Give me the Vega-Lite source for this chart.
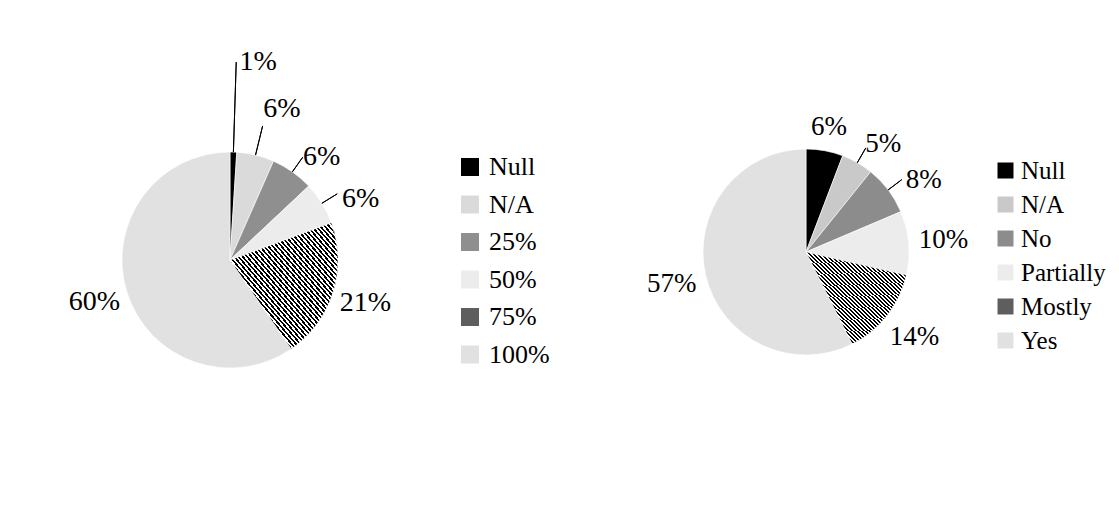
{
  "$schema": "https://vega.github.io/schema/vega-lite/v6.json",
  "background": "white",
  "padding": {"left": 7, "top": 12, "right": 0, "bottom": 0},
  "bounds": "flush",
  "spacing": 153,
  "config": {"view": {"stroke": null}, "font": "Times New Roman, Liberation Serif, DejaVu Serif, serif"},
  "resolve": {"scale": {"color": "independent", "theta": "independent"}, "legend": {"color": "independent"}},
  "hconcat": [
    {
      "width": 446,
      "height": 496,
      "data": {"values": [
        {"cat": "Null", "value": 1.0, "label": "1%"},
        {"cat": "N/A", "value": 5.6, "label": "6%"},
        {"cat": "25%", "value": 6.4, "label": "6%"},
        {"cat": "50%", "value": 6.4, "label": "6%"},
        {"cat": "75%", "value": 21.0, "label": "21%"},
        {"cat": "100%", "value": 59.6, "label": "60%"}
      ]},
      "transform": [{"window": [{"op": "row_number", "as": "idx"}]}],
      "encoding": {
        "theta": {"field": "value", "type": "quantitative", "stack": true},
        "order": {"field": "idx", "type": "quantitative"},
        "detail": {"field": "cat", "type": "nominal"}
      },
      "layer": [
        {
          "mark": {"type": "arc", "radius": 108, "stroke": "#ffffff", "strokeWidth": 0.6},
          "encoding": {
            "color": {
              "field": "cat", "type": "nominal",
              "scale": {
                "domain": ["Null", "N/A", "25%", "50%", "75%", "100%"],
                "range": ["#000000", "#dadada", "#8f8f8f", "#ececec", "#5e5e5e", "#e1e1e1"]
              },
              "legend": {
                "orient": "none", "legendX": 450, "legendY": 142, "title": null,
                "symbolType": "square", "symbolSize": 324, "symbolStrokeWidth": 0,
                "labelFont": "Times New Roman, Liberation Serif, DejaVu Serif, serif", "labelFontSize": 26, "labelColor": "#000000",
                "rowPadding": 11.5, "labelOffset": 6
              }
            }
          }
        },
        {
          "mark": {"type": "arc", "radius": 108, "stroke": "#ffffff", "strokeWidth": 0.6, "fill": {"gradient": "linear", "x1": 0, "y1": 1, "x2": 1, "y2": 0, "stops": [
{"offset":0,"color":"#000"},
{"offset":0.01,"color":"#000"},{"offset":0.01,"color":"#fff"},{"offset":0.02,"color":"#fff"},{"offset":0.02,"color":"#000"},
{"offset":0.03,"color":"#000"},{"offset":0.03,"color":"#fff"},{"offset":0.04,"color":"#fff"},{"offset":0.04,"color":"#000"},
{"offset":0.05,"color":"#000"},{"offset":0.05,"color":"#fff"},{"offset":0.06,"color":"#fff"},{"offset":0.06,"color":"#000"},
{"offset":0.07,"color":"#000"},{"offset":0.07,"color":"#fff"},{"offset":0.08,"color":"#fff"},{"offset":0.08,"color":"#000"},
{"offset":0.09,"color":"#000"},{"offset":0.09,"color":"#fff"},{"offset":0.10,"color":"#fff"},{"offset":0.10,"color":"#000"},
{"offset":0.11,"color":"#000"},{"offset":0.11,"color":"#fff"},{"offset":0.12,"color":"#fff"},{"offset":0.12,"color":"#000"},
{"offset":0.13,"color":"#000"},{"offset":0.13,"color":"#fff"},{"offset":0.14,"color":"#fff"},{"offset":0.14,"color":"#000"},
{"offset":0.15,"color":"#000"},{"offset":0.15,"color":"#fff"},{"offset":0.16,"color":"#fff"},{"offset":0.16,"color":"#000"},
{"offset":0.17,"color":"#000"},{"offset":0.17,"color":"#fff"},{"offset":0.18,"color":"#fff"},{"offset":0.18,"color":"#000"},
{"offset":0.19,"color":"#000"},{"offset":0.19,"color":"#fff"},{"offset":0.20,"color":"#fff"},{"offset":0.20,"color":"#000"},
{"offset":0.21,"color":"#000"},{"offset":0.21,"color":"#fff"},{"offset":0.22,"color":"#fff"},{"offset":0.22,"color":"#000"},
{"offset":0.23,"color":"#000"},{"offset":0.23,"color":"#fff"},{"offset":0.24,"color":"#fff"},{"offset":0.24,"color":"#000"},
{"offset":0.25,"color":"#000"},{"offset":0.25,"color":"#fff"},{"offset":0.26,"color":"#fff"},{"offset":0.26,"color":"#000"},
{"offset":0.27,"color":"#000"},{"offset":0.27,"color":"#fff"},{"offset":0.28,"color":"#fff"},{"offset":0.28,"color":"#000"},
{"offset":0.29,"color":"#000"},{"offset":0.29,"color":"#fff"},{"offset":0.30,"color":"#fff"},{"offset":0.30,"color":"#000"},
{"offset":0.31,"color":"#000"},{"offset":0.31,"color":"#fff"},{"offset":0.32,"color":"#fff"},{"offset":0.32,"color":"#000"},
{"offset":0.33,"color":"#000"},{"offset":0.33,"color":"#fff"},{"offset":0.34,"color":"#fff"},{"offset":0.34,"color":"#000"},
{"offset":0.35,"color":"#000"},{"offset":0.35,"color":"#fff"},{"offset":0.36,"color":"#fff"},{"offset":0.36,"color":"#000"},
{"offset":0.37,"color":"#000"},{"offset":0.37,"color":"#fff"},{"offset":0.38,"color":"#fff"},{"offset":0.38,"color":"#000"},
{"offset":0.39,"color":"#000"},{"offset":0.39,"color":"#fff"},{"offset":0.40,"color":"#fff"},{"offset":0.40,"color":"#000"},
{"offset":0.41,"color":"#000"},{"offset":0.41,"color":"#fff"},{"offset":0.42,"color":"#fff"},{"offset":0.42,"color":"#000"},
{"offset":0.43,"color":"#000"},{"offset":0.43,"color":"#fff"},{"offset":0.44,"color":"#fff"},{"offset":0.44,"color":"#000"},
{"offset":0.45,"color":"#000"},{"offset":0.45,"color":"#fff"},{"offset":0.46,"color":"#fff"},{"offset":0.46,"color":"#000"},
{"offset":0.47,"color":"#000"},{"offset":0.47,"color":"#fff"},{"offset":0.48,"color":"#fff"},{"offset":0.48,"color":"#000"},
{"offset":0.49,"color":"#000"},{"offset":0.49,"color":"#fff"},{"offset":0.50,"color":"#fff"},{"offset":0.50,"color":"#000"},
{"offset":0.51,"color":"#000"},{"offset":0.51,"color":"#fff"},{"offset":0.52,"color":"#fff"},{"offset":0.52,"color":"#000"},
{"offset":0.53,"color":"#000"},{"offset":0.53,"color":"#fff"},{"offset":0.54,"color":"#fff"},{"offset":0.54,"color":"#000"},
{"offset":0.55,"color":"#000"},{"offset":0.55,"color":"#fff"},{"offset":0.56,"color":"#fff"},{"offset":0.56,"color":"#000"},
{"offset":0.57,"color":"#000"},{"offset":0.57,"color":"#fff"},{"offset":0.58,"color":"#fff"},{"offset":0.58,"color":"#000"},
{"offset":0.59,"color":"#000"},{"offset":0.59,"color":"#fff"},{"offset":0.60,"color":"#fff"},{"offset":0.60,"color":"#000"},
{"offset":0.61,"color":"#000"},{"offset":0.61,"color":"#fff"},{"offset":0.62,"color":"#fff"},{"offset":0.62,"color":"#000"},
{"offset":0.63,"color":"#000"},{"offset":0.63,"color":"#fff"},{"offset":0.64,"color":"#fff"},{"offset":0.64,"color":"#000"},
{"offset":0.65,"color":"#000"},{"offset":0.65,"color":"#fff"},{"offset":0.66,"color":"#fff"},{"offset":0.66,"color":"#000"},
{"offset":0.67,"color":"#000"},{"offset":0.67,"color":"#fff"},{"offset":0.68,"color":"#fff"},{"offset":0.68,"color":"#000"},
{"offset":0.69,"color":"#000"},{"offset":0.69,"color":"#fff"},{"offset":0.70,"color":"#fff"},{"offset":0.70,"color":"#000"},
{"offset":0.71,"color":"#000"},{"offset":0.71,"color":"#fff"},{"offset":0.72,"color":"#fff"},{"offset":0.72,"color":"#000"},
{"offset":0.73,"color":"#000"},{"offset":0.73,"color":"#fff"},{"offset":0.74,"color":"#fff"},{"offset":0.74,"color":"#000"},
{"offset":0.75,"color":"#000"},{"offset":0.75,"color":"#fff"},{"offset":0.76,"color":"#fff"},{"offset":0.76,"color":"#000"},
{"offset":0.77,"color":"#000"},{"offset":0.77,"color":"#fff"},{"offset":0.78,"color":"#fff"},{"offset":0.78,"color":"#000"},
{"offset":0.79,"color":"#000"},{"offset":0.79,"color":"#fff"},{"offset":0.80,"color":"#fff"},{"offset":0.80,"color":"#000"},
{"offset":0.81,"color":"#000"},{"offset":0.81,"color":"#fff"},{"offset":0.82,"color":"#fff"},{"offset":0.82,"color":"#000"},
{"offset":0.83,"color":"#000"},{"offset":0.83,"color":"#fff"},{"offset":0.84,"color":"#fff"},{"offset":0.84,"color":"#000"},
{"offset":0.85,"color":"#000"},{"offset":0.85,"color":"#fff"},{"offset":0.86,"color":"#fff"},{"offset":0.86,"color":"#000"},
{"offset":0.87,"color":"#000"},{"offset":0.87,"color":"#fff"},{"offset":0.88,"color":"#fff"},{"offset":0.88,"color":"#000"},
{"offset":0.89,"color":"#000"},{"offset":0.89,"color":"#fff"},{"offset":0.90,"color":"#fff"},{"offset":0.90,"color":"#000"},
{"offset":0.91,"color":"#000"},{"offset":0.91,"color":"#fff"},{"offset":0.92,"color":"#fff"},{"offset":0.92,"color":"#000"},
{"offset":0.93,"color":"#000"},{"offset":0.93,"color":"#fff"},{"offset":0.94,"color":"#fff"},{"offset":0.94,"color":"#000"},
{"offset":0.95,"color":"#000"},{"offset":0.95,"color":"#fff"},{"offset":0.96,"color":"#fff"},{"offset":0.96,"color":"#000"},
{"offset":0.97,"color":"#000"},{"offset":0.97,"color":"#fff"},{"offset":0.98,"color":"#fff"},{"offset":0.98,"color":"#000"},
{"offset":0.99,"color":"#000"},{"offset":0.99,"color":"#fff"},{"offset":1,"color":"#fff"}
          ]}},
          "encoding": {
            "fillOpacity": {"condition": {"test": "datum.cat === '75%'", "value": 1}, "value": 0},
            "strokeOpacity": {"condition": {"test": "datum.cat === '75%'", "value": 1}, "value": 0}
          }
        },
        {
          "mark": {"type": "arc", "radius": 198, "radius2": 108, "padAngle": 3, "fillOpacity": 0, "strokeWidth": 1},
          "encoding": {"stroke": {"condition": {"test": "datum.cat === 'Null'", "value": "#000000"}, "value": "transparent"}}
        },
        {
          "mark": {"type": "arc", "radius": 138, "radius2": 108, "padAngle": 3, "fillOpacity": 0, "strokeWidth": 1},
          "encoding": {"stroke": {"condition": {"test": "datum.cat === 'N/A'", "value": "#000000"}, "value": "transparent"}}
        },
        {
          "mark": {"type": "arc", "radius": 126, "radius2": 108, "padAngle": 3, "fillOpacity": 0, "strokeWidth": 1},
          "encoding": {"stroke": {"condition": {"test": "datum.cat === '25%' || datum.cat === '50%'", "value": "#000000"}, "value": "transparent"}}
        },
        {
          "mark": {"type": "text", "radius": 198, "dx": 22, "font": "Times New Roman, Liberation Serif, DejaVu Serif, serif", "fontSize": 28, "color": "#000000", "baseline": "middle", "align": "center"},
          "encoding": {"text": {"condition": {"test": "datum.cat === 'Null'", "field": "label", "type": "nominal"}, "value": ""}}
        },
        {
          "mark": {"type": "text", "radius": 160, "dx": 14, "dy": 4, "font": "Times New Roman, Liberation Serif, DejaVu Serif, serif", "fontSize": 28, "color": "#000000", "baseline": "middle", "align": "center"},
          "encoding": {"text": {"condition": {"test": "datum.cat === 'N/A'", "field": "label", "type": "nominal"}, "value": ""}}
        },
        {
          "mark": {"type": "text", "radius": 143, "dx": 9, "dy": 14, "font": "Times New Roman, Liberation Serif, DejaVu Serif, serif", "fontSize": 28, "color": "#000000", "baseline": "middle", "align": "center"},
          "encoding": {"text": {"condition": {"test": "datum.cat === '25%' || datum.cat === '50%'", "field": "label", "type": "nominal"}, "value": ""}}
        },
        {
          "mark": {"type": "text", "radius": 142, "font": "Times New Roman, Liberation Serif, DejaVu Serif, serif", "fontSize": 28, "color": "#000000", "baseline": "middle", "align": "center"},
          "encoding": {"text": {"condition": {"test": "datum.value >= 10", "field": "label", "type": "nominal"}, "value": ""}}
        }
      ]
    },
    {
      "width": 400,
      "height": 480,
      "data": {"values": [
        {"cat": "Null", "value": 5.8, "label": "6%"},
        {"cat": "N/A", "value": 5.0, "label": "5%"},
        {"cat": "No", "value": 7.8, "label": "8%"},
        {"cat": "Partially", "value": 10.0, "label": "10%"},
        {"cat": "Mostly", "value": 14.0, "label": "14%"},
        {"cat": "Yes", "value": 57.4, "label": "57%"}
      ]},
      "transform": [{"window": [{"op": "row_number", "as": "idx"}]}],
      "encoding": {
        "theta": {"field": "value", "type": "quantitative", "stack": true},
        "order": {"field": "idx", "type": "quantitative"},
        "detail": {"field": "cat", "type": "nominal"}
      },
      "layer": [
        {
          "mark": {"type": "arc", "radius": 103, "stroke": "#ffffff", "strokeWidth": 0.6},
          "encoding": {
            "color": {
              "field": "cat", "type": "nominal",
              "scale": {
                "domain": ["Null", "N/A", "No", "Partially", "Mostly", "Yes"],
                "range": ["#000000", "#c9c9c9", "#8c8c8c", "#ececec", "#5e5e5e", "#e1e1e1"]
              },
              "legend": {
                "orient": "none", "legendX": 387, "legendY": 146, "title": null,
                "symbolType": "square", "symbolSize": 256, "symbolStrokeWidth": 0,
                "labelFont": "Times New Roman, Liberation Serif, DejaVu Serif, serif", "labelFontSize": 25, "labelColor": "#000000",
                "rowPadding": 8, "labelOffset": 3
              }
            }
          }
        },
        {
          "mark": {"type": "arc", "radius": 103, "stroke": "#ffffff", "strokeWidth": 0.6, "fill": {"gradient": "linear", "x1": 0, "y1": 1, "x2": 1, "y2": 0, "stops": [
{"offset":0,"color":"#000"},
{"offset":0.01,"color":"#000"},{"offset":0.01,"color":"#fff"},{"offset":0.02,"color":"#fff"},{"offset":0.02,"color":"#000"},
{"offset":0.03,"color":"#000"},{"offset":0.03,"color":"#fff"},{"offset":0.04,"color":"#fff"},{"offset":0.04,"color":"#000"},
{"offset":0.05,"color":"#000"},{"offset":0.05,"color":"#fff"},{"offset":0.06,"color":"#fff"},{"offset":0.06,"color":"#000"},
{"offset":0.07,"color":"#000"},{"offset":0.07,"color":"#fff"},{"offset":0.08,"color":"#fff"},{"offset":0.08,"color":"#000"},
{"offset":0.09,"color":"#000"},{"offset":0.09,"color":"#fff"},{"offset":0.10,"color":"#fff"},{"offset":0.10,"color":"#000"},
{"offset":0.11,"color":"#000"},{"offset":0.11,"color":"#fff"},{"offset":0.12,"color":"#fff"},{"offset":0.12,"color":"#000"},
{"offset":0.13,"color":"#000"},{"offset":0.13,"color":"#fff"},{"offset":0.14,"color":"#fff"},{"offset":0.14,"color":"#000"},
{"offset":0.15,"color":"#000"},{"offset":0.15,"color":"#fff"},{"offset":0.16,"color":"#fff"},{"offset":0.16,"color":"#000"},
{"offset":0.17,"color":"#000"},{"offset":0.17,"color":"#fff"},{"offset":0.18,"color":"#fff"},{"offset":0.18,"color":"#000"},
{"offset":0.19,"color":"#000"},{"offset":0.19,"color":"#fff"},{"offset":0.20,"color":"#fff"},{"offset":0.20,"color":"#000"},
{"offset":0.21,"color":"#000"},{"offset":0.21,"color":"#fff"},{"offset":0.22,"color":"#fff"},{"offset":0.22,"color":"#000"},
{"offset":0.23,"color":"#000"},{"offset":0.23,"color":"#fff"},{"offset":0.24,"color":"#fff"},{"offset":0.24,"color":"#000"},
{"offset":0.25,"color":"#000"},{"offset":0.25,"color":"#fff"},{"offset":0.26,"color":"#fff"},{"offset":0.26,"color":"#000"},
{"offset":0.27,"color":"#000"},{"offset":0.27,"color":"#fff"},{"offset":0.28,"color":"#fff"},{"offset":0.28,"color":"#000"},
{"offset":0.29,"color":"#000"},{"offset":0.29,"color":"#fff"},{"offset":0.30,"color":"#fff"},{"offset":0.30,"color":"#000"},
{"offset":0.31,"color":"#000"},{"offset":0.31,"color":"#fff"},{"offset":0.32,"color":"#fff"},{"offset":0.32,"color":"#000"},
{"offset":0.33,"color":"#000"},{"offset":0.33,"color":"#fff"},{"offset":0.34,"color":"#fff"},{"offset":0.34,"color":"#000"},
{"offset":0.35,"color":"#000"},{"offset":0.35,"color":"#fff"},{"offset":0.36,"color":"#fff"},{"offset":0.36,"color":"#000"},
{"offset":0.37,"color":"#000"},{"offset":0.37,"color":"#fff"},{"offset":0.38,"color":"#fff"},{"offset":0.38,"color":"#000"},
{"offset":0.39,"color":"#000"},{"offset":0.39,"color":"#fff"},{"offset":0.40,"color":"#fff"},{"offset":0.40,"color":"#000"},
{"offset":0.41,"color":"#000"},{"offset":0.41,"color":"#fff"},{"offset":0.42,"color":"#fff"},{"offset":0.42,"color":"#000"},
{"offset":0.43,"color":"#000"},{"offset":0.43,"color":"#fff"},{"offset":0.44,"color":"#fff"},{"offset":0.44,"color":"#000"},
{"offset":0.45,"color":"#000"},{"offset":0.45,"color":"#fff"},{"offset":0.46,"color":"#fff"},{"offset":0.46,"color":"#000"},
{"offset":0.47,"color":"#000"},{"offset":0.47,"color":"#fff"},{"offset":0.48,"color":"#fff"},{"offset":0.48,"color":"#000"},
{"offset":0.49,"color":"#000"},{"offset":0.49,"color":"#fff"},{"offset":0.50,"color":"#fff"},{"offset":0.50,"color":"#000"},
{"offset":0.51,"color":"#000"},{"offset":0.51,"color":"#fff"},{"offset":0.52,"color":"#fff"},{"offset":0.52,"color":"#000"},
{"offset":0.53,"color":"#000"},{"offset":0.53,"color":"#fff"},{"offset":0.54,"color":"#fff"},{"offset":0.54,"color":"#000"},
{"offset":0.55,"color":"#000"},{"offset":0.55,"color":"#fff"},{"offset":0.56,"color":"#fff"},{"offset":0.56,"color":"#000"},
{"offset":0.57,"color":"#000"},{"offset":0.57,"color":"#fff"},{"offset":0.58,"color":"#fff"},{"offset":0.58,"color":"#000"},
{"offset":0.59,"color":"#000"},{"offset":0.59,"color":"#fff"},{"offset":0.60,"color":"#fff"},{"offset":0.60,"color":"#000"},
{"offset":0.61,"color":"#000"},{"offset":0.61,"color":"#fff"},{"offset":0.62,"color":"#fff"},{"offset":0.62,"color":"#000"},
{"offset":0.63,"color":"#000"},{"offset":0.63,"color":"#fff"},{"offset":0.64,"color":"#fff"},{"offset":0.64,"color":"#000"},
{"offset":0.65,"color":"#000"},{"offset":0.65,"color":"#fff"},{"offset":0.66,"color":"#fff"},{"offset":0.66,"color":"#000"},
{"offset":0.67,"color":"#000"},{"offset":0.67,"color":"#fff"},{"offset":0.68,"color":"#fff"},{"offset":0.68,"color":"#000"},
{"offset":0.69,"color":"#000"},{"offset":0.69,"color":"#fff"},{"offset":0.70,"color":"#fff"},{"offset":0.70,"color":"#000"},
{"offset":0.71,"color":"#000"},{"offset":0.71,"color":"#fff"},{"offset":0.72,"color":"#fff"},{"offset":0.72,"color":"#000"},
{"offset":0.73,"color":"#000"},{"offset":0.73,"color":"#fff"},{"offset":0.74,"color":"#fff"},{"offset":0.74,"color":"#000"},
{"offset":0.75,"color":"#000"},{"offset":0.75,"color":"#fff"},{"offset":0.76,"color":"#fff"},{"offset":0.76,"color":"#000"},
{"offset":0.77,"color":"#000"},{"offset":0.77,"color":"#fff"},{"offset":0.78,"color":"#fff"},{"offset":0.78,"color":"#000"},
{"offset":0.79,"color":"#000"},{"offset":0.79,"color":"#fff"},{"offset":0.80,"color":"#fff"},{"offset":0.80,"color":"#000"},
{"offset":0.81,"color":"#000"},{"offset":0.81,"color":"#fff"},{"offset":0.82,"color":"#fff"},{"offset":0.82,"color":"#000"},
{"offset":0.83,"color":"#000"},{"offset":0.83,"color":"#fff"},{"offset":0.84,"color":"#fff"},{"offset":0.84,"color":"#000"},
{"offset":0.85,"color":"#000"},{"offset":0.85,"color":"#fff"},{"offset":0.86,"color":"#fff"},{"offset":0.86,"color":"#000"},
{"offset":0.87,"color":"#000"},{"offset":0.87,"color":"#fff"},{"offset":0.88,"color":"#fff"},{"offset":0.88,"color":"#000"},
{"offset":0.89,"color":"#000"},{"offset":0.89,"color":"#fff"},{"offset":0.90,"color":"#fff"},{"offset":0.90,"color":"#000"},
{"offset":0.91,"color":"#000"},{"offset":0.91,"color":"#fff"},{"offset":0.92,"color":"#fff"},{"offset":0.92,"color":"#000"},
{"offset":0.93,"color":"#000"},{"offset":0.93,"color":"#fff"},{"offset":0.94,"color":"#fff"},{"offset":0.94,"color":"#000"},
{"offset":0.95,"color":"#000"},{"offset":0.95,"color":"#fff"},{"offset":0.96,"color":"#fff"},{"offset":0.96,"color":"#000"},
{"offset":0.97,"color":"#000"},{"offset":0.97,"color":"#fff"},{"offset":0.98,"color":"#fff"},{"offset":0.98,"color":"#000"},
{"offset":0.99,"color":"#000"},{"offset":0.99,"color":"#fff"},{"offset":1,"color":"#fff"}
          ]}},
          "encoding": {
            "fillOpacity": {"condition": {"test": "datum.cat === 'Mostly'", "value": 1}, "value": 0},
            "strokeOpacity": {"condition": {"test": "datum.cat === 'Mostly'", "value": 1}, "value": 0}
          }
        },
        {
          "mark": {"type": "arc", "radius": 120, "radius2": 103, "padAngle": 3, "fillOpacity": 0, "strokeWidth": 1},
          "encoding": {"stroke": {"condition": {"test": "datum.cat === 'N/A' || datum.cat === 'No'", "value": "#000000"}, "value": "transparent"}}
        },
        {
          "mark": {"type": "text", "radius": 127, "font": "Times New Roman, Liberation Serif, DejaVu Serif, serif", "fontSize": 27, "color": "#000000", "baseline": "middle", "align": "center"},
          "encoding": {"text": {"condition": {"test": "datum.cat === 'Null'", "field": "label", "type": "nominal"}, "value": ""}}
        },
        {
          "mark": {"type": "text", "radius": 135, "dx": 10, "dy": 9, "font": "Times New Roman, Liberation Serif, DejaVu Serif, serif", "fontSize": 27, "color": "#000000", "baseline": "middle", "align": "center"},
          "encoding": {"text": {"condition": {"test": "datum.cat === 'N/A' || datum.cat === 'No'", "field": "label", "type": "nominal"}, "value": ""}}
        },
        {
          "mark": {"type": "text", "radius": 138, "font": "Times New Roman, Liberation Serif, DejaVu Serif, serif", "fontSize": 27, "color": "#000000", "baseline": "middle", "align": "center"},
          "encoding": {"text": {"condition": {"test": "datum.value >= 10", "field": "label", "type": "nominal"}, "value": ""}}
        }
      ]
    }
  ]
}
